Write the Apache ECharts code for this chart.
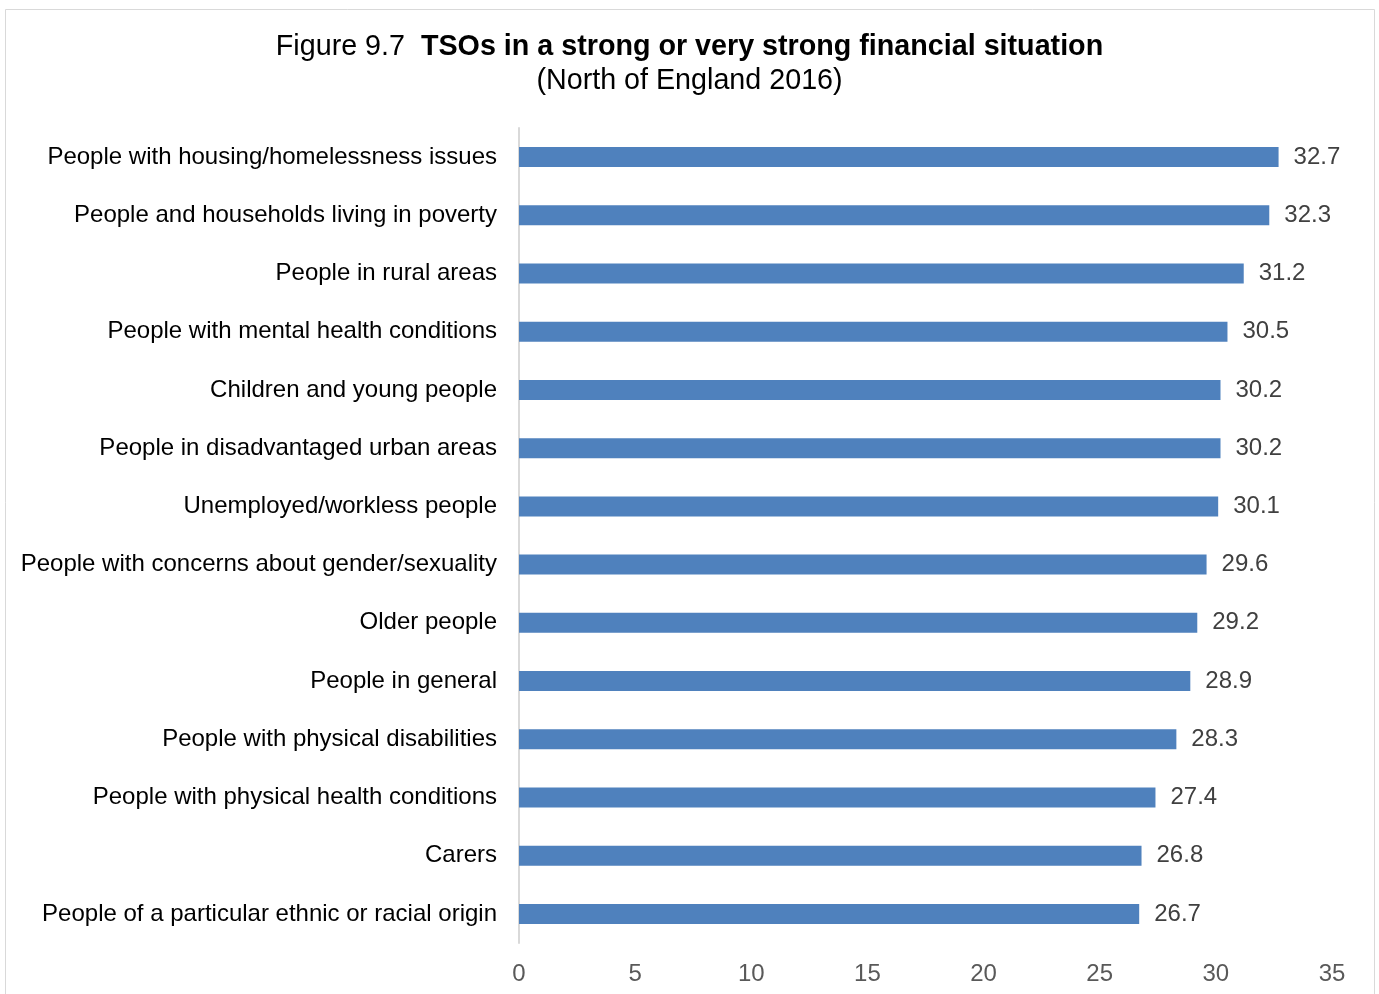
<!DOCTYPE html>
<html>
<head>
<meta charset="utf-8">
<script src="https://cdn.jsdelivr.net/npm/echarts@6/dist/echarts.min.js"></script>
<style>
html,body{margin:0;padding:0;background:#fff;}
#main{width:1379px;height:994px;}
</style>
</head>
<body>
<div id="main"></div>
<script>
// categories, top to bottom
var categories = [
	'People with housing/homelessness issues',
	'People and households living in poverty',
	'People in rural areas',
	'People with mental health conditions',
	'Children and young people',
	'People in disadvantaged urban areas',
	'Unemployed/workless people',
	'People with concerns about gender/sexuality',
	'Older people',
	'People in general',
	'People with physical disabilities',
	'People with physical health conditions',
	'Carers',
	'People of a particular ethnic or racial origin'
];
var values = [32.7, 32.3, 31.2, 30.5, 30.2, 30.2, 30.1, 29.6, 29.2, 28.9, 28.3, 27.4, 26.8, 26.7];
var axisMin = 0, axisMax = 35, axisStep = 5;

var myChart = echarts.init(document.getElementById('main'));
var fontName = '"Liberation Sans", Arial, sans-serif';

var option = {
	backgroundColor : '#fff',
	textStyle : { fontFamily : fontName },
	title : {
		left : 'center',
		top : 25,
		text : '{n|Figure 9.7  }{b|TSOs in a strong or very strong financial situation}\n{n|(North of England 2016)}',
		textStyle : {
			fontWeight : 'normal',
			rich : {
				n : { fontFamily : fontName, fontSize : 28.7, fontWeight : 'normal', color : '#000', lineHeight : 34 },
				b : { fontFamily : fontName, fontSize : 28.7, fontWeight : 'bold', color : '#000', lineHeight : 34 }
			}
		}
	},
	graphic : [{
		type : 'rect',
		shape : { x : 5.5, y : 9.5, width : 1369, height : 1000 },
		style : { fill : 'none', stroke : '#d9d9d9', lineWidth : 1 },
		silent : true
	}],
	grid : { left : 519, right : 47, top : 128, bottom : 51 },
	xAxis : {
		type : 'value',
		min : axisMin,
		max : axisMax,
		interval : axisStep,
		axisLine : { show : false },
		axisTick : { show : false },
		splitLine : { show : false },
		axisLabel : { color : '#595959', fontSize : 24, margin : 19, fontFamily : fontName }
	},
	yAxis : {
		type : 'category',
		data : categories,
		inverse : true,
		axisLine : { show : true, lineStyle : { color : '#d9d9d9', width : 2 } },
		axisTick : { show : false },
		axisLabel : { color : '#000', fontSize : 24, margin : 22, padding : [3, 0, 0, 0], fontFamily : fontName }
	},
	series : [{
		type : 'bar',
		data : values,
		barWidth : 20,
		itemStyle : { color : '#4f81bd' },
		label : {
			show : true,
			position : 'right',
			distance : 15,
			color : '#404040',
			fontSize : 24,
			fontFamily : fontName,
			padding : [3, 0, 0, 0],
			formatter : function(p){ return p.value.toFixed(1); }
		},
		animation : false
	}],
	animation : false
};
myChart.setOption(option);
</script>
</body>
</html>
